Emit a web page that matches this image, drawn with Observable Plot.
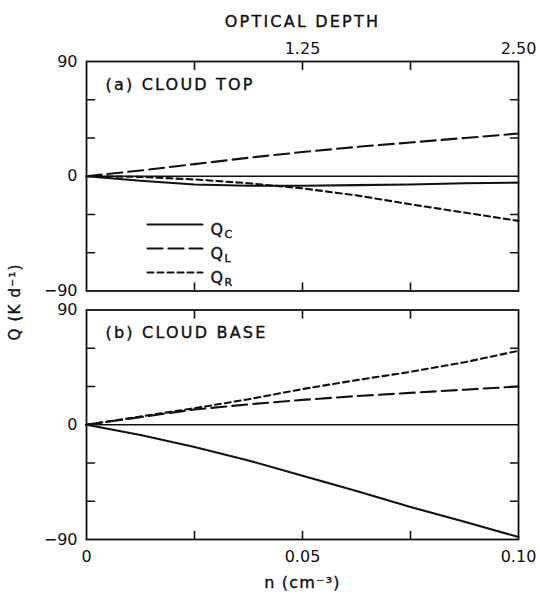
<!DOCTYPE html>
<html><head><meta charset="utf-8">
<script src="https://cdn.jsdelivr.net/npm/d3@7"></script>
<script src="https://cdn.jsdelivr.net/npm/@observablehq/plot@0.6"></script>
<style>
body{margin:0;background:#fff}
#chart svg{display:block}
#chart .spaced{letter-spacing:2.2px}
#chart .spaced1{letter-spacing:1.2px}
</style>
</head><body><div id="chart"></div>
<script>
// ---- data ----
const nValues = [0, 0.0125, 0.025, 0.0375, 0.05, 0.0625, 0.075, 0.0875, 0.10];
const topQC  = [0, -3.5, -6.5, -7.5, -7.5, -7, -6.5, -5.5, -5];
const topQL  = [0, 4.5, 9.5, 14.5, 19, 23, 26.5, 30, 33.5];
const topQR  = [0, -0.5, -2.5, -5.5, -9.5, -15, -22, -28.5, -35];
const baseQC = [0, -8, -17.5, -28, -40, -52, -64.5, -76, -88];
const baseQL = [0, 6, 12, 16, 19.5, 22.5, 25, 27.5, 30];
const baseQR = [0, 6.5, 13, 20, 28, 35, 41.5, 49, 58];
const panels = ["a", "b"];
const panelTitles = ["(a) CLOUD TOP", "(b) CLOUD BASE"];
const seriesKeys = ["C", "L", "R"];
const yLabelTicks = [-90, 0, 90];
const yMinorTicks = [-60, -30, 30, 60];
const xInnerTicks = [0.025, 0.05, 0.075];
const xBottomTicks = [0, 0.05, 0.10];
const xTopTicks = [0.05, 0.10];
const opticalPerN = 25; // optical depth = 25 * n

// ---- build table ----
const valuesBy = {a: {C: topQC, L: topQL, R: topQR}, b: {C: baseQC, L: baseQL, R: baseQR}};
const rows = [];
for (const p of panels) for (const s of seriesKeys)
  valuesBy[p][s].forEach((q, i) => rows.push({panel: p, series: s, n: nValues[i], q}));

// ---- styles ----
const FONT = "DejaVu Sans";
const INK = "#111";
const dashes = {C: null, L: "15,6", R: "6,4"};
const tickShape = {draw(ctx, l) { ctx.moveTo(0, 0); ctx.lineTo(0, -l); }};
const fmtY = d => d < 0 ? "\u2212" + (-d) : String(d);
const fmtX = d => d === 0 ? "0" : d.toFixed(2);
const heavy = {stroke: INK, strokeWidth: 0.4, fill: INK};

const marks = [];
marks.push(Plot.ruleY([0], {strokeWidth: 1.4, stroke: INK}));
for (const s of seriesKeys) {
  marks.push(Plot.line(rows.filter(d => d.series === s), {
    x: "n", y: "q", fy: "panel", stroke: INK, strokeWidth: 2.1,
    strokeDasharray: dashes[s]
  }));
}
// inward ticks on all four sides
const tk = {length: 8, anchor: "start", shape: tickShape, strokeWidth: 1.6, stroke: INK};
marks.push(Plot.vector(yMinorTicks, {y: d => d, frameAnchor: "left", rotate: 90, ...tk}));
marks.push(Plot.vector(yMinorTicks, {y: d => d, frameAnchor: "right", rotate: -90, ...tk}));
marks.push(Plot.vector(xInnerTicks, {x: d => d, frameAnchor: "top", rotate: 180, ...tk}));
marks.push(Plot.vector(xInnerTicks, {x: d => d, frameAnchor: "bottom", rotate: 0, ...tk}));
marks.push(Plot.frame({stroke: INK, strokeWidth: 1.8}));

marks.push(Plot.axisY(yLabelTicks, {anchor: "left", tickSize: 0, tickPadding: 9, tickFormat: fmtY, label: null, fontSize: 16, ...heavy}));
marks.push(Plot.axisX(xBottomTicks, {anchor: "bottom", tickSize: 0, tickPadding: 11, tickFormat: fmtX, label: null, fontSize: 16, ...heavy}));
marks.push(Plot.axisX(xTopTicks, {anchor: "top", tickSize: 0, tickPadding: 8, tickFormat: d => (d * opticalPerN).toFixed(2), label: null, fontSize: 16, ...heavy}));

// panel titles
marks.push(Plot.text(panels.map((p, i) => ({panel: p, t: panelTitles[i]})), {
  fy: "panel", text: "t", frameAnchor: "top-left", dx: 19, dy: 23, textAnchor: "start", lineAnchor: "middle",
  fontSize: 16, className: "spaced", ...heavy
}));
// axis titles
marks.push(Plot.text(["OPTICAL DEPTH"], {fy: () => "a", text: d => d, frameAnchor: "top", dy: -46, fontSize: 16, className: "spaced", ...heavy}));
marks.push(Plot.text(["n (cm\u207B\u00B3)"], {fy: () => "b", text: d => d, frameAnchor: "bottom", dy: 48, fontSize: 16, className: "spaced1", ...heavy}));
marks.push(Plot.text(["Q (K d\u207B\u00B9)"], {fy: () => "a", text: d => d, frameAnchor: "bottom-left", dx: -67, dy: 11,
  rotate: -90, textAnchor: "middle", fontSize: 15, className: "spaced1", ...heavy}));

// legend inside panel (a)
seriesKeys.forEach((s, i) => {
  const dy = 163 + i * 24;
  marks.push(Plot.vector([s], {fy: () => "a", frameAnchor: "top-left", dx: 61, dy, rotate: 90, length: 55, anchor: "start",
    shape: tickShape, stroke: INK, strokeWidth: 2.1, strokeDasharray: dashes[s]}));
  marks.push(Plot.text([s], {fy: () => "a", text: () => "Q", frameAnchor: "top-left", textAnchor: "start", dx: 124, dy: dy - 1, fontSize: 16, ...heavy}));
  marks.push(Plot.text([s], {fy: () => "a", text: d => d, frameAnchor: "top-left", textAnchor: "start", dx: 138, dy: dy + 6, fontSize: 11, ...heavy}));
});

const chart = Plot.plot({
  width: 540, height: 598,
  marginLeft: 86, marginRight: 22, marginTop: 61, marginBottom: 59,
  style: {fontFamily: FONT, fontSize: "16px", color: INK, background: "#fff"},
  x: {domain: [0, 0.10], axis: null},
  y: {domain: [-90, 90], axis: null},
  fy: {domain: panels, axis: null, paddingInner: 0.0765, paddingOuter: 0, round: false},
  marks
});
document.getElementById("chart").appendChild(chart);
</script>
</body></html>
